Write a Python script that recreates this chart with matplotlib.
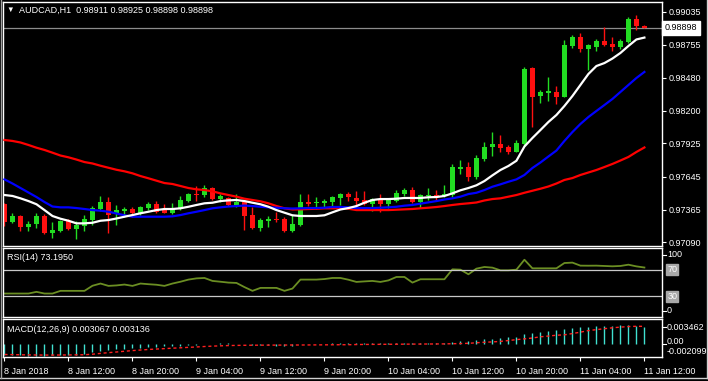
import matplotlib
matplotlib.use("Agg")
import matplotlib.pyplot as plt
from matplotlib.lines import Line2D

plt.rcParams['font.family'] = ['Liberation Sans', 'DejaVu Sans']

# --------------------------
# data (AUDCAD H1, 8 Jan 04:00 .. 11 Jan 12:00)
# --------------------------
opens = [0.97413, 0.97264, 0.97312, 0.97219, 0.97242, 0.97312, 0.97171, 0.97188, 0.97270, 0.97205,
         0.97230, 0.97278, 0.97371, 0.97430, 0.97326, 0.97357, 0.97373, 0.97335, 0.97379, 0.97413,
         0.97368, 0.97335, 0.97371, 0.97438, 0.97497, 0.97489, 0.97548, 0.97455, 0.97464, 0.97405,
         0.97430, 0.97320, 0.97211, 0.97272, 0.97287, 0.97287, 0.97185, 0.97236, 0.97430, 0.97422,
         0.97422, 0.97430, 0.97464, 0.97497, 0.97464, 0.97447, 0.97413, 0.97447, 0.97413, 0.97438,
         0.97497, 0.97531, 0.97430, 0.97481, 0.97489, 0.97483, 0.97492, 0.97711, 0.97728, 0.97643,
         0.97795, 0.97896, 0.97919, 0.97894, 0.97852, 0.97919, 0.98560, 0.98324, 0.98349, 0.98360,
         0.98318, 0.98746, 0.98824, 0.98720, 0.98740, 0.98788, 0.98763, 0.98740, 0.98782, 0.98974,
         0.98911]
highs = [0.97422, 0.97335, 0.97320, 0.97270, 0.97337, 0.97329, 0.97261, 0.97278, 0.97287, 0.97272,
         0.97320, 0.97396, 0.97481, 0.97472, 0.97405, 0.97390, 0.97385, 0.97396, 0.97430, 0.97438,
         0.97413, 0.97422, 0.97481, 0.97506, 0.97565, 0.97573, 0.97557, 0.97497, 0.97472, 0.97497,
         0.97438, 0.97390, 0.97295, 0.97312, 0.97346, 0.97303, 0.97320, 0.97497, 0.97497, 0.97472,
         0.97455, 0.97481, 0.97506, 0.97514, 0.97523, 0.97523, 0.97464, 0.97497, 0.97464, 0.97531,
         0.97548, 0.97557, 0.97497, 0.97548, 0.97531, 0.97573, 0.97750, 0.97784, 0.97767, 0.97826,
         0.97936, 0.98020, 0.97995, 0.97911, 0.97953, 0.98569, 0.98569, 0.98375, 0.98484, 0.98408,
         0.98796, 0.98839, 0.98856, 0.98763, 0.98805, 0.98906, 0.98822, 0.98805, 0.98988, 0.99007,
         0.98925]
lows = [0.97228, 0.97257, 0.97188, 0.97188, 0.97213, 0.97160, 0.97129, 0.97179, 0.97194, 0.97120,
        0.97188, 0.97239, 0.97354, 0.97171, 0.97236, 0.97306, 0.97301, 0.97318, 0.97363, 0.97335,
        0.97335, 0.97326, 0.97363, 0.97430, 0.97438, 0.97475, 0.97447, 0.97430, 0.97396, 0.97388,
        0.97194, 0.97202, 0.97185, 0.97222, 0.97261, 0.97181, 0.97181, 0.97228, 0.97396, 0.97371,
        0.97379, 0.97388, 0.97405, 0.97438, 0.97388, 0.97405, 0.97354, 0.97346, 0.97379, 0.97430,
        0.97481, 0.97422, 0.97379, 0.97447, 0.97438, 0.97475, 0.97475, 0.97669, 0.97610, 0.97627,
        0.97778, 0.97818, 0.97852, 0.97835, 0.97852, 0.97902, 0.98063, 0.98265, 0.98282, 0.98257,
        0.98313, 0.98729, 0.98698, 0.98543, 0.98704, 0.98746, 0.98706, 0.98720, 0.98775, 0.98881,
        0.98898]
closes = [0.97264, 0.97312, 0.97222, 0.97244, 0.97312, 0.97171, 0.97194, 0.97270, 0.97205, 0.97236,
          0.97287, 0.97379, 0.97430, 0.97320, 0.97363, 0.97373, 0.97335, 0.97388, 0.97413, 0.97343,
          0.97335, 0.97379, 0.97447, 0.97497, 0.97489, 0.97548, 0.97455, 0.97481, 0.97405, 0.97430,
          0.97312, 0.97211, 0.97278, 0.97287, 0.97278, 0.97185, 0.97244, 0.97430, 0.97413, 0.97430,
          0.97438, 0.97472, 0.97497, 0.97472, 0.97438, 0.97413, 0.97455, 0.97413, 0.97447, 0.97506,
          0.97531, 0.97430, 0.97489, 0.97489, 0.97481, 0.97500, 0.97728, 0.97728, 0.97643, 0.97801,
          0.97894, 0.97919, 0.97885, 0.97852, 0.97928, 0.98552, 0.98316, 0.98360, 0.98366, 0.98316,
          0.98754, 0.98824, 0.98720, 0.98754, 0.98788, 0.98754, 0.98740, 0.98788, 0.98974, 0.98915,
          0.98898]

ma_white = [0.97489, 0.97481, 0.97461, 0.97438, 0.97411, 0.97362, 0.97312, 0.97289, 0.97272, 0.97250,
            0.97250, 0.97255, 0.97272, 0.97278, 0.97291, 0.97306, 0.97320, 0.97335, 0.97348, 0.97362,
            0.97371, 0.97371, 0.97377, 0.97390, 0.97405, 0.97419, 0.97424, 0.97438, 0.97444, 0.97447,
            0.97438, 0.97424, 0.97411, 0.97390, 0.97362, 0.97340, 0.97318, 0.97312, 0.97312, 0.97312,
            0.97318, 0.97343, 0.97367, 0.97379, 0.97396, 0.97424, 0.97447, 0.97455, 0.97455, 0.97458,
            0.97464, 0.97464, 0.97464, 0.97470, 0.97472, 0.97481, 0.97503, 0.97529, 0.97548, 0.97571,
            0.97607, 0.97655, 0.97700, 0.97734, 0.97778, 0.97898, 0.97970, 0.98037, 0.98105, 0.98164,
            0.98240, 0.98324, 0.98417, 0.98510, 0.98577, 0.98602, 0.98640, 0.98687, 0.98746, 0.98801,
            0.98817]
ma_blue = [0.97621, 0.97586, 0.97548, 0.97510, 0.97472, 0.97430, 0.97392, 0.97385, 0.97385, 0.97379,
           0.97371, 0.97362, 0.97357, 0.97348, 0.97333, 0.97318, 0.97306, 0.97306, 0.97306, 0.97306,
           0.97306, 0.97309, 0.97320, 0.97335, 0.97348, 0.97362, 0.97377, 0.97385, 0.97392, 0.97396,
           0.97400, 0.97396, 0.97390, 0.97385, 0.97382, 0.97377, 0.97375, 0.97377, 0.97379, 0.97379,
           0.97382, 0.97388, 0.97388, 0.97385, 0.97379, 0.97379, 0.97379, 0.97382, 0.97385, 0.97390,
           0.97399, 0.97405, 0.97416, 0.97427, 0.97438, 0.97451, 0.97461, 0.97475, 0.97497, 0.97508,
           0.97531, 0.97559, 0.97579, 0.97601, 0.97621, 0.97658, 0.97717, 0.97763, 0.97814, 0.97864,
           0.97945, 0.98020, 0.98088, 0.98147, 0.98198, 0.98248, 0.98299, 0.98358, 0.98417, 0.98476,
           0.98527]
ma_red = [0.97953, 0.97945, 0.97932, 0.97911, 0.97888, 0.97869, 0.97846, 0.97822, 0.97807, 0.97788,
          0.97767, 0.97755, 0.97736, 0.97719, 0.97702, 0.97689, 0.97672, 0.97649, 0.97630, 0.97610,
          0.97590, 0.97582, 0.97565, 0.97548, 0.97537, 0.97531, 0.97520, 0.97503, 0.97489, 0.97475,
          0.97458, 0.97447, 0.97436, 0.97419, 0.97396, 0.97377, 0.97367, 0.97368, 0.97371, 0.97373,
          0.97377, 0.97377, 0.97377, 0.97373, 0.97362, 0.97362, 0.97362, 0.97362, 0.97362, 0.97365,
          0.97368, 0.97371, 0.97377, 0.97382, 0.97388, 0.97396, 0.97405, 0.97413, 0.97419, 0.97426,
          0.97443, 0.97455, 0.97461, 0.97475, 0.97489, 0.97508, 0.97525, 0.97542, 0.97561, 0.97586,
          0.97616, 0.97632, 0.97658, 0.97679, 0.97700, 0.97725, 0.97751, 0.97780, 0.97810, 0.97852,
          0.97890]

rsi = [34.4, 34.4, 34.4, 34.4, 36.9, 34.4, 34.4, 38.4, 38.4, 38.4,
       38.4, 46.0, 49.3, 45.8, 46.5, 47.8, 45.8, 49.3, 48.3, 47.5,
       45.8, 49.3, 52.0, 55.2, 57.0, 57.6, 53.2, 52.0, 50.7, 50.2,
       44.0, 38.4, 42.8, 42.8, 42.8, 38.4, 41.8, 55.2, 55.2, 55.2,
       56.0, 57.6, 57.6, 55.0, 51.7, 52.5, 53.2, 51.7, 54.0, 59.1,
       59.1, 50.7, 55.7, 55.7, 55.7, 55.7, 70.5, 70.0, 63.1, 71.5,
       74.0, 73.0, 69.0, 69.0, 70.0, 84.8, 72.0, 72.0, 72.0, 72.0,
       79.9, 80.5, 76.0, 75.9, 76.0, 75.5, 75.0, 75.5, 77.4, 74.9,
       73.2]

macd_main = [-0.00195, -0.00200, -0.00205, -0.00208, -0.00210, -0.00208, -0.00205, -0.00200, -0.00195, -0.00190,
             -0.00180, -0.00152, -0.00132, -0.00116, -0.00100, -0.00090, -0.00081, -0.00070, -0.00060, -0.00052,
             -0.00046, -0.00040, -0.00030, -0.00025, -0.00018, -0.00010, 0.00005, 0.00010, 0.00010, 0.00005,
             -0.00005, -0.00020, -0.00025, -0.00025, -0.00030, -0.00035, -0.00030, -0.00010, -0.00005, 0.00000,
             0.00005, 0.00010, 0.00012, 0.00012, 0.00010, 0.00010, 0.00010, 0.00010, 0.00012, 0.00018,
             0.00020, 0.00015, 0.00017, 0.00018, 0.00020, 0.00020, 0.00040, 0.00050, 0.00055, 0.00076,
             0.00086, 0.00096, 0.00110, 0.00120, 0.00127, 0.00177, 0.00197, 0.00218, 0.00228, 0.00248,
             0.00273, 0.00288, 0.00299, 0.00304, 0.00314, 0.00318, 0.00322, 0.00330, 0.003462, 0.00325,
             0.003067]
macd_signal = [-0.00190, -0.00192, -0.00195, -0.00197, -0.00199, -0.00200, -0.00200, -0.00199, -0.00198, -0.00196,
               -0.00194, -0.00185, -0.00170, -0.00157, -0.00145, -0.00132, -0.00120, -0.00110, -0.00100, -0.00092,
               -0.00085, -0.00077, -0.00070, -0.00062, -0.00055, -0.00047, -0.00040, -0.00035, -0.00030, -0.00027,
               -0.00025, -0.00024, -0.00023, -0.00022, -0.00022, -0.00021, -0.00020, -0.00020, -0.00019, -0.00018,
               -0.00017, -0.00016, -0.00015, -0.00015, -0.00012, -0.00010, -0.00009, -0.00008, -0.00007, -0.00006,
               -0.00005, -0.00004, -0.00003, -0.00002, -0.00001, 0.00000, 0.00003, 0.00006, 0.00010, 0.00020,
               0.00030, 0.00035, 0.00045, 0.00060, 0.00076, 0.00090, 0.00105, 0.00127, 0.00140, 0.00155,
               0.00162, 0.00185, 0.00210, 0.00238, 0.00255, 0.00272, 0.00288, 0.00300, 0.00310, 0.00315,
               0.003136]

price_ticks = [0.99035, 0.98755, 0.98480, 0.98200, 0.97925, 0.97645, 0.97365, 0.97090]
time_labels = ["8 Jan 2018", "8 Jan 12:00", "8 Jan 20:00", "9 Jan 04:00", "9 Jan 12:00",
               "9 Jan 20:00", "10 Jan 04:00", "10 Jan 12:00", "10 Jan 20:00", "11 Jan 04:00",
               "11 Jan 12:00"]

# --------------------------
# layout (pixel boxes -> figure fractions)
# --------------------------
W, H = 708, 381
fig = plt.figure(figsize=(W / 100, H / 100), dpi=100, facecolor='black')


def px_axes(x0, y0, x1, y1):
    a = fig.add_axes([x0 / W, 1 - y1 / H, (x1 - x0) / W, (y1 - y0) / H])
    a.set_facecolor('black')
    for s in a.spines.values():
        s.set_color('white')
        s.set_linewidth(1.0)
    a.set_xlim(-0.25, 82.2)
    a.tick_params(colors='white', labelsize=6.5, length=3, width=0.8,
                  left=False, labelleft=False, right=True, labelright=True,
                  bottom=False, labelbottom=False, pad=2)
    return a


def fig_text(x, y, s, **kw):
    kw.setdefault('fontsize', 6.5)
    kw.setdefault('color', 'white')
    fig.text(x / W, 1 - y / H, s, va='center', **kw)


def right_tick(y):
    # little scale mark to the right of the panel border
    fig.add_artist(Line2D([662 / W, 665.5 / W], [1 - y / H, 1 - y / H], color='white', lw=0.8))


ax = px_axes(2.5, 2, 662, 246)
ax_rsi = px_axes(2.5, 248, 662, 317)
ax_macd = px_axes(2.5, 319.3, 662, 357.3)

GREEN = '#22dd22'
RED = '#ff1010'

# --------------------------
# main price panel
# --------------------------
bars = list(range(len(closes)))
colors = [GREEN if c >= o else RED for o, c in zip(opens, closes)]
ax.vlines(bars, lows, highs, colors=colors, lw=1.0, zorder=2)
ax.bar(bars, [max(abs(c - o), 0.00007) for o, c in zip(opens, closes)],
       bottom=[min(o, c) for o, c in zip(opens, closes)],
       width=0.62, color=colors, lw=0, zorder=2)

ax.plot(bars, ma_red, color='#ff0000', lw=1.6, zorder=3)
ax.plot(bars, ma_blue, color='#0000ff', lw=1.6, zorder=3)
ax.plot(bars, ma_white, color='white', lw=1.6, zorder=3)

ax.axhline(closes[-1], color='#8c8c8c', lw=0.9, zorder=1)
ax.set_ylim(0.97059, 0.99117)
ax.set_yticks(price_ticks)
ax.set_yticklabels([f"{p:.5f}" for p in price_ticks])
ax.text(1.004, closes[-1], f"{closes[-1]:.5f}", transform=ax.get_yaxis_transform(),
        fontsize=6.5, color='black', va='center', ha='left', clip_on=False,
        bbox=dict(boxstyle='square,pad=0.3', facecolor='white', edgecolor='white'))

fig_text(6.5, 10, "\u25bc", fontsize=5.5)
fig_text(19, 10, "AUDCAD,H1  0.98911 0.98925 0.98898 0.98898")

# --------------------------
# RSI panel
# --------------------------
ax_rsi.plot(bars, rsi, color='#6b8e23', lw=1.3)
for lvl in (70, 30):
    ax_rsi.axhline(lvl, color='#c8c8c8', lw=0.9)
ax_rsi.set_ylim(-0.6, 102.3)
ax_rsi.set_yticks([])
ax_rsi.tick_params(right=False)
fig_text(667, 254.5, "100")
fig_text(667, 310.5, "0")
for yy in (254.5, 310.5):
    right_tick(yy)
for lvl in (70, 30):
    ax_rsi.text(1.008, lvl, str(lvl), transform=ax_rsi.get_yaxis_transform(),
                fontsize=6.5, color='white', va='center', ha='left', clip_on=False,
                bbox=dict(boxstyle='square,pad=0.12', facecolor='#a8a8a8', edgecolor='#a8a8a8'))
fig_text(7, 257, "RSI(14) 73.1950")

# --------------------------
# MACD panel
# --------------------------
ax_macd.vlines(bars, 0, macd_main, colors='#40e0d0', lw=1.0)
ax_macd.plot(bars, macd_signal, color='#ff2020', lw=1.0, ls=(0, (2.2, 2)))
ax_macd.set_ylim(-0.0024, 0.0044)
ax_macd.set_yticks([])
ax_macd.tick_params(right=False)
fig_text(667, 327, "0.003462")
fig_text(667, 342, "0.00")
fig_text(667, 351.5, "-0.002099")
for yy in (327, 344):
    right_tick(yy)
fig_text(7, 329, "MACD(12,26,9) 0.003067 0.003136")

ax_macd.set_xticks(bars[::8])
ax_macd.set_xticklabels(time_labels)
ax_macd.tick_params(axis='x', bottom=True, labelbottom=True, length=3, pad=4)
for lab in ax_macd.get_xticklabels():
    lab.set_ha('left')

# window frame
fig.add_artist(Line2D([0, 1], [1 - 377.5 / H, 1 - 377.5 / H], color='#d0d0d0', lw=1))
fig.add_artist(Line2D([0.5 / W, 0.5 / W], [1 - 377.5 / H, 1], color='#a0a0a0', lw=1))
fig.add_artist(Line2D([707 / W, 707 / W], [1 - 377.5 / H, 1], color='#d0d0d0', lw=1))

fig.savefig("out.png", dpi=100, facecolor='black')
